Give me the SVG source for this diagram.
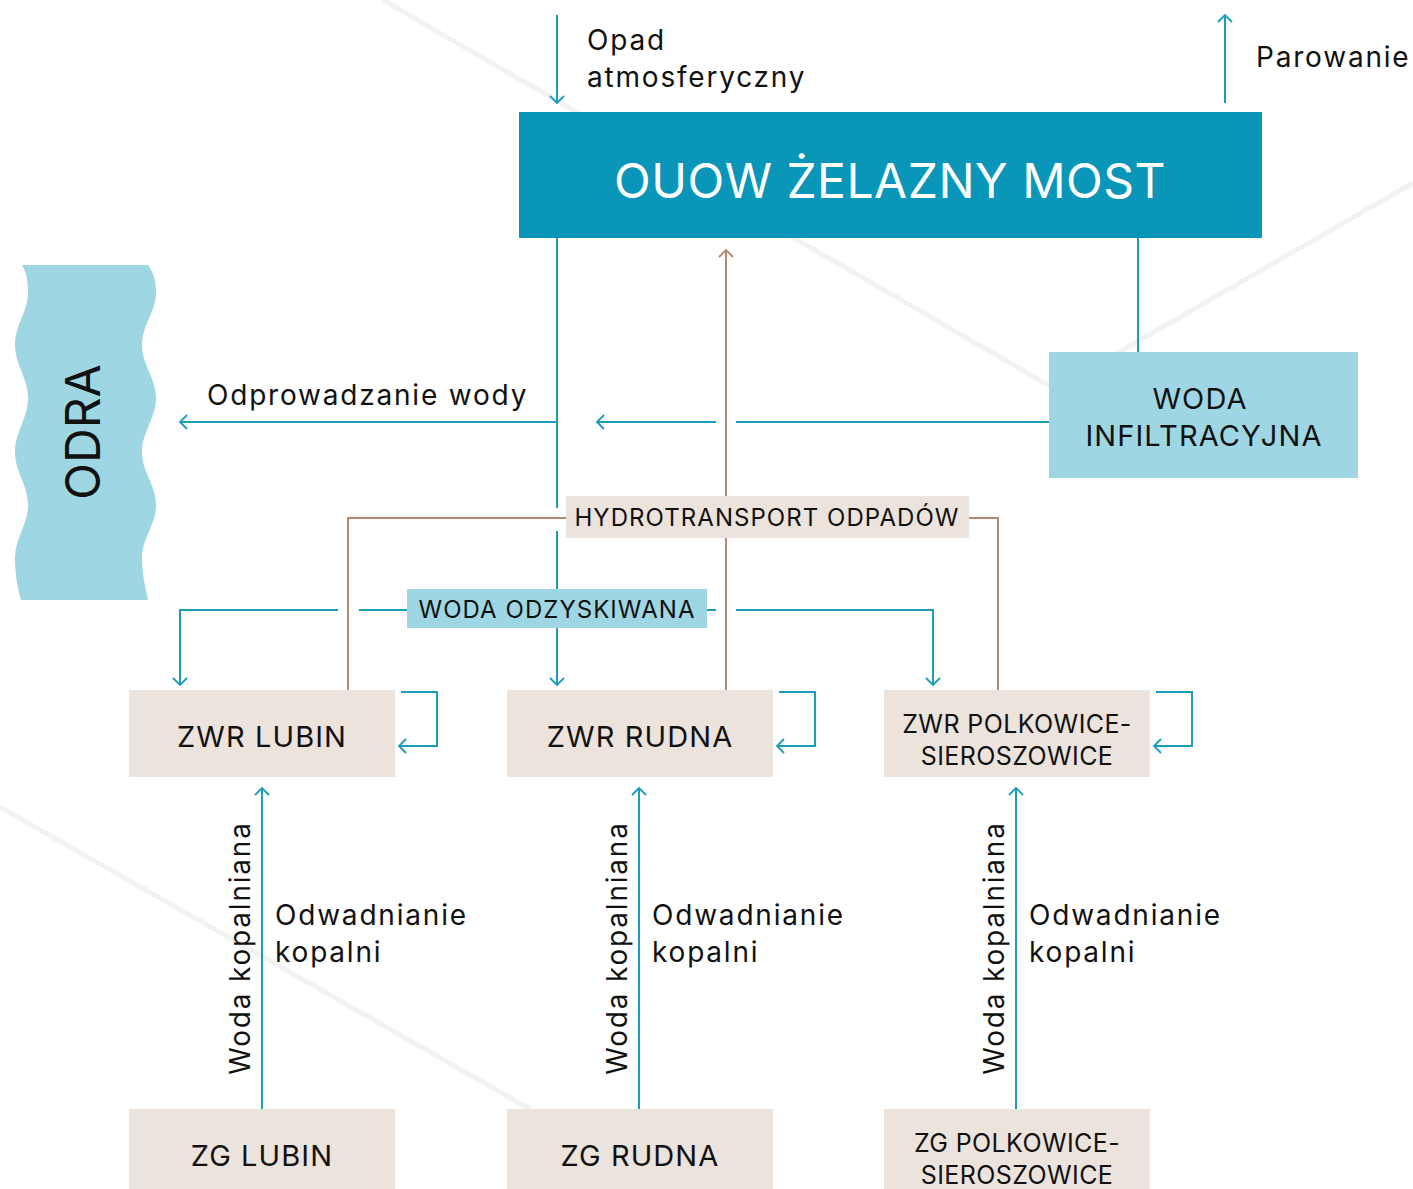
<svg xmlns="http://www.w3.org/2000/svg" width="1413" height="1189" viewBox="0 0 1413 1189">
<defs>
<style>
.t{font-family:Inter,"Liberation Sans",sans-serif;fill:#111;}
.l{font-size:28px;letter-spacing:1.8px;}
.s{font-size:24px;letter-spacing:1.05px;}
.m{font-size:29px;letter-spacing:1.1px;}
.p{font-size:25px;letter-spacing:0.4px;}
.b{fill:none;stroke:#1a9dbd;stroke-width:2;}
.br{fill:none;stroke:#b5876b;stroke-width:2;}
.bg{fill:none;stroke:#f2f2f2;stroke-width:5;}
.beige{fill:#ece3dd;}
.lb{fill:#9fd6e3;}
</style>
<marker id="ab" markerUnits="userSpaceOnUse" markerWidth="20" markerHeight="20" viewBox="-10 -10 20 20" refX="0" refY="0" orient="auto">
<path d="M-7,-7 L0,0 L-7,7" fill="none" stroke="#1a9dbd" stroke-width="1.8"/>
</marker>
<marker id="abr" markerUnits="userSpaceOnUse" markerWidth="20" markerHeight="20" viewBox="-10 -10 20 20" refX="0" refY="0" orient="auto">
<path d="M-7,-7 L0,0 L-7,7" fill="none" stroke="#b5876b" stroke-width="1.8"/>
</marker>
</defs>
<rect width="1413" height="1189" fill="#fff"/>
<g id="background">
<polyline class="bg" points="383,0 1055,389 1413,183"/>
<line class="bg" x1="0" y1="807" x2="530" y2="1109"/>
</g>
<g id="connectors">
<line class="b" x1="557" y1="15" x2="557" y2="103" marker-end="url(#ab)"/>
<line class="b" x1="1225" y1="103" x2="1225" y2="15" marker-end="url(#ab)"/>
<line class="b" x1="557" y1="238" x2="557" y2="508"/>
<line class="b" x1="557" y1="422" x2="180" y2="422" marker-end="url(#ab)"/>
<line class="b" x1="1138" y1="238" x2="1138" y2="352"/>
<line class="b" x1="1049" y1="422" x2="736" y2="422"/>
<line class="b" x1="716" y1="422" x2="597" y2="422" marker-end="url(#ab)"/>
<line class="b" x1="557" y1="531" x2="557" y2="590"/>
<line class="b" x1="557" y1="628" x2="557" y2="685" marker-end="url(#ab)"/>
<polyline class="b" points="338,610 180,610 180,685" marker-end="url(#ab)"/>
<line class="b" x1="359" y1="610" x2="407" y2="610"/>
<line class="b" x1="707" y1="610" x2="716" y2="610"/>
<polyline class="b" points="736,610 933,610 933,685" marker-end="url(#ab)"/>
<line class="br" x1="726" y1="690" x2="726" y2="250" marker-end="url(#abr)"/>
<polyline class="br" points="566,518 348,518 348,690"/>
<polyline class="br" points="969,518 998,518 998,690"/>
<polyline class="b" points="401,692 437,692 437,746 399,746" marker-end="url(#ab)"/>
<polyline class="b" points="779,692 815,692 815,746 777,746" marker-end="url(#ab)"/>
<polyline class="b" points="1156,692 1192,692 1192,746 1154,746" marker-end="url(#ab)"/>
<line class="b" x1="262" y1="1109" x2="262" y2="788" marker-end="url(#ab)"/>
<line class="b" x1="639" y1="1109" x2="639" y2="788" marker-end="url(#ab)"/>
<line class="b" x1="1016" y1="1109" x2="1016" y2="788" marker-end="url(#ab)"/>
</g>
<g id="labels">
<text class="t l" x="587" y="50">Opad</text>
<text class="t l" x="587" y="87">atmosferyczny</text>
<text class="t l" x="1256" y="67">Parowanie</text>
<text class="t l" x="207" y="405">Odprowadzanie wody</text>
<g id="hydrotransport">
<rect class="beige" x="566" y="496" width="403" height="42"/>
<text class="t s" x="767" y="526" text-anchor="middle">HYDROTRANSPORT ODPADÓW</text>
</g>
<g id="odzyskiwana">
<rect class="lb" x="407" y="589" width="300" height="39"/>
<text class="t s" x="557" y="618" text-anchor="middle">WODA ODZYSKIWANA</text>
</g>
<text class="t l" transform="translate(250,948) rotate(-90)" text-anchor="middle">Woda kopalniana</text>
<text class="t l" transform="translate(627,948) rotate(-90)" text-anchor="middle">Woda kopalniana</text>
<text class="t l" transform="translate(1004,948) rotate(-90)" text-anchor="middle">Woda kopalniana</text>
<text class="t l" x="275" y="925">Odwadnianie</text>
<text class="t l" x="275" y="962">kopalni</text>
<text class="t l" x="652" y="925">Odwadnianie</text>
<text class="t l" x="652" y="962">kopalni</text>
<text class="t l" x="1029" y="925">Odwadnianie</text>
<text class="t l" x="1029" y="962">kopalni</text>
</g>
<g id="odra">
<path class="lb" d="M22,265 L148,265 C153,272 156,280 156,292 C156,312 142,325 142,345 C142,365 156,378 156,398 C156,418 142,432 142,452 C142,472 156,485 156,505 C156,525 142,538 142,558 C142,575 146,590 148,600 L21,600 C18,590 15,575 15,558 C15,538 28,525 28,505 C28,485 15,472 15,452 C15,432 28,418 28,398 C28,378 15,365 15,345 C15,325 28,312 28,292 C28,280 26,272 22,265 Z"/>
<text class="t" transform="translate(100,432) rotate(-90)" font-size="48" text-anchor="middle">ODRA</text>
</g>
<g id="ouow">
<rect x="519" y="112" width="743" height="126" fill="#0a96b9"/>
<text class="t" x="890" y="198" font-size="48" letter-spacing="0.5" text-anchor="middle" style="fill:#fff">OUOW ŻELAZNY MOST</text>
</g>
<g id="infiltracyjna">
<rect class="lb" x="1049" y="352" width="309" height="126"/>
<text class="t m" x="1200" y="409" text-anchor="middle">WODA</text>
<text class="t m" x="1204" y="446" text-anchor="middle">INFILTRACYJNA</text>
</g>
<g id="zwr-lubin">
<rect class="beige" x="129" y="690" width="266" height="87"/>
<text class="t m" x="262" y="747" text-anchor="middle">ZWR LUBIN</text>
</g>
<g id="zwr-rudna">
<rect class="beige" x="507" y="690" width="266" height="87"/>
<text class="t m" x="640" y="747" text-anchor="middle">ZWR RUDNA</text>
</g>
<g id="zwr-polkowice">
<rect class="beige" x="884" y="690" width="266" height="87"/>
<text class="t p" x="1017" y="733" text-anchor="middle">ZWR POLKOWICE-</text>
<text class="t p" x="1017" y="765" text-anchor="middle">SIEROSZOWICE</text>
</g>
<g id="zg-lubin">
<rect class="beige" x="129" y="1109" width="266" height="80"/>
<text class="t m" x="262" y="1166" text-anchor="middle">ZG LUBIN</text>
</g>
<g id="zg-rudna">
<rect class="beige" x="507" y="1109" width="266" height="80"/>
<text class="t m" x="640" y="1166" text-anchor="middle">ZG RUDNA</text>
</g>
<g id="zg-polkowice">
<rect class="beige" x="884" y="1109" width="266" height="80"/>
<text class="t p" x="1017" y="1152" text-anchor="middle">ZG POLKOWICE-</text>
<text class="t p" x="1017" y="1184" text-anchor="middle">SIEROSZOWICE</text>
</g>
</svg>
